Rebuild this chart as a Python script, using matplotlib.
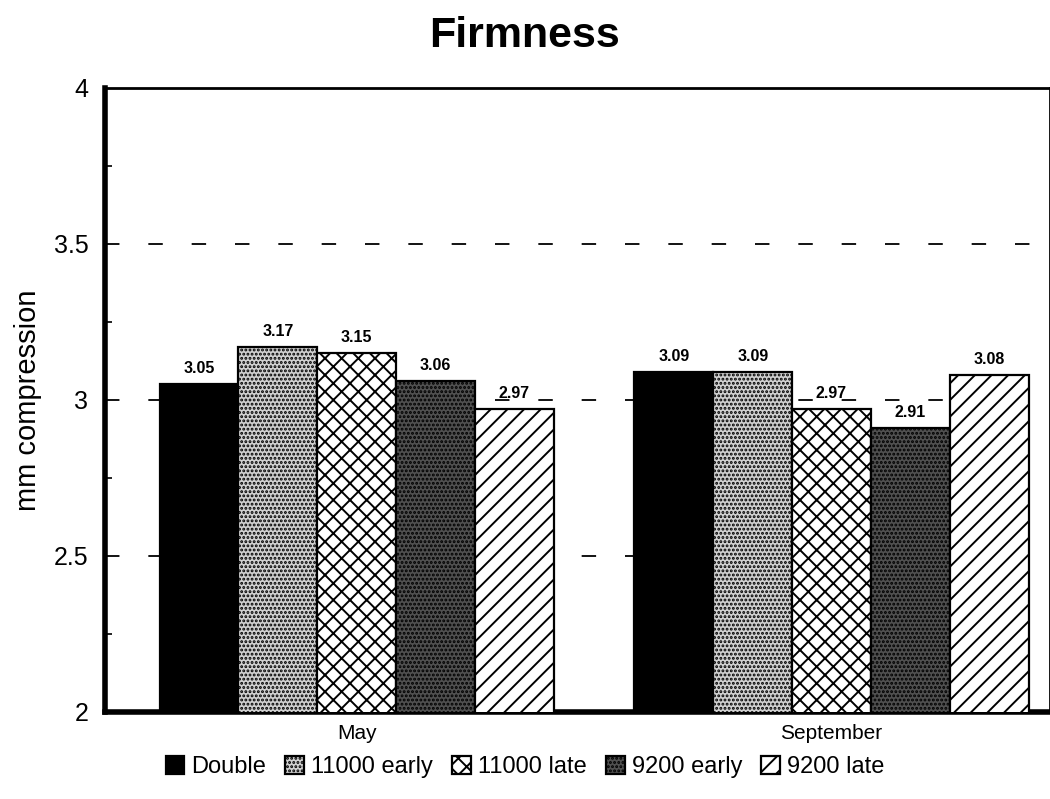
import numpy as np
import matplotlib
matplotlib.use('Agg')
import matplotlib.pyplot as plt
from matplotlib.ticker import MultipleLocator

# dades llegides del grafic
months = ["May", "September"]
series = ["Double", "11000 early", "11000 late", "9200 early", "9200 late"]
double_vals = [3.05, 3.09]
early_11000 = [3.17, 3.09]
late_11000 = [3.15, 2.97]
early_9200 = [3.06, 2.91]
late_9200 = [2.97, 3.08]

values = [double_vals, early_11000, late_11000, early_9200, late_9200]
# estil de cada serie: color de fons, hatch
styles = [
    ('black', None),
    ('#d0d0d0', '....'),
    ('white', 'xx'),
    ('#505050', '....'),
    ('white', '//'),
]

plt.rcParams['font.family'] = ['Liberation Sans', 'DejaVu Sans']
plt.rcParams['hatch.linewidth'] = 1.4

fig = plt.figure(figsize=(10.5, 7.99), dpi=100)
ax = fig.add_axes([0.1, 0.109, 0.9, 0.781])

w = 0.166
x = np.arange(len(months))
offsets = (np.arange(len(series)) - 2) * w

for i, (name, vals) in enumerate(zip(series, values)):
    fc, hatch = styles[i]
    bars = ax.bar(x + offsets[i], vals, width=w, color=fc, edgecolor='black',
                  linewidth=1.6, hatch=hatch, label=name, zorder=3)
    for b, v in zip(bars, vals):
        ax.text(b.get_x() + b.get_width() / 2, v + 0.025, f"{v:.2f}",
                ha='center', va='bottom', fontsize=11.5, fontweight='bold', zorder=4)

ax.set_ylim(2, 4)
ax.set_xlim(-0.53, 1.46)
ax.yaxis.set_minor_locator(MultipleLocator(0.25))
ax.set_yticks([2, 2.5, 3, 3.5, 4])
ax.set_yticklabels(['2', '2.5', '3', '3.5', '4'])
ax.tick_params(axis='y', which='major', direction='in', length=0, labelsize=18, pad=12)
ax.tick_params(axis='y', which='minor', direction='in', length=5, width=1.2)
ax.set_xticks(x)
ax.set_xticklabels(months, fontsize=15)
ax.tick_params(axis='x', length=0, pad=9)

for yv in [2.5, 3.0, 3.5]:
    ax.axhline(yv, color='black', linestyle=(0, (8, 16)), linewidth=1.3, zorder=1)

for side in ['left', 'bottom']:
    ax.spines[side].set_linewidth(4)
ax.spines['top'].set_linewidth(2)
ax.spines['right'].set_linewidth(2)

ax.set_ylabel('mm compression', fontsize=21, labelpad=8)
fig.suptitle('Firmness', fontsize=31, fontweight='bold', x=0.5, y=0.98)

fig.legend(loc='lower center', bbox_to_anchor=(0.5, 0.0), ncol=5, frameon=False,
           fontsize=17, handlelength=0.8, handleheight=0.8, handletextpad=0.3,
           columnspacing=0.8)

fig.savefig('out.png', dpi=100)
